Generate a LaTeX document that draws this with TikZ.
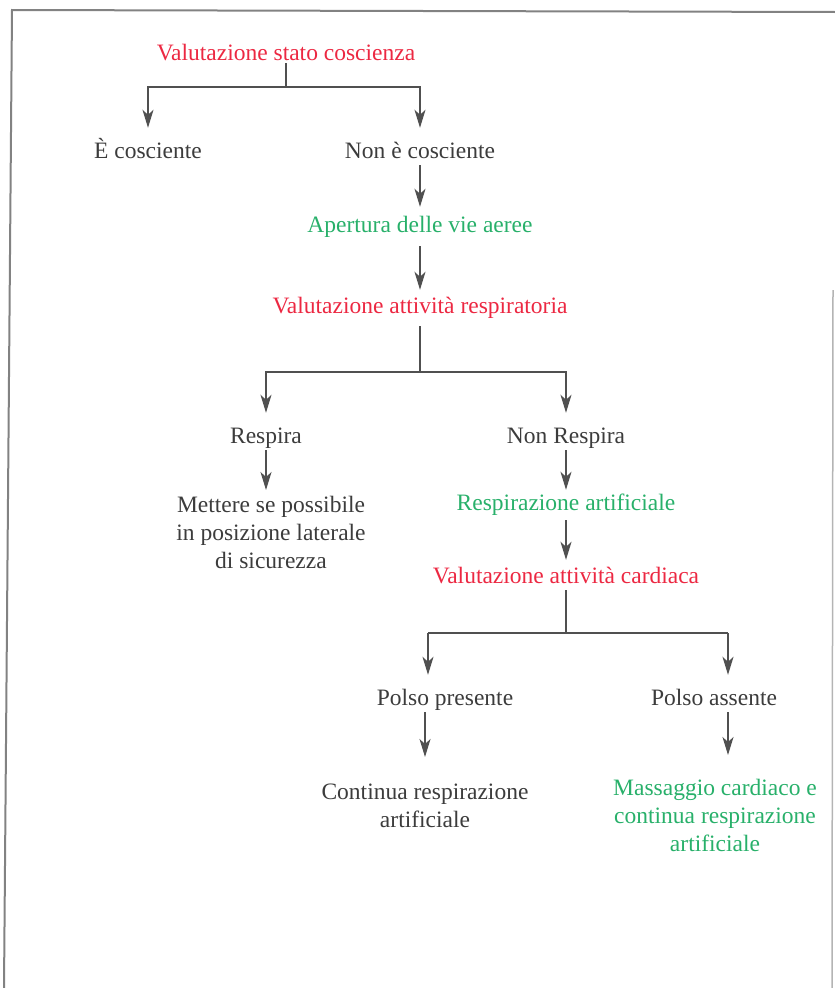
\documentclass[tikz,border=0pt]{standalone}
\usepackage{fontspec}
\setmainfont{Liberation Serif}
\usepackage{xcolor}
\usepackage{tikz}
\usetikzlibrary{arrows.meta, positioning}

\definecolor{testo}{RGB}{60,60,60}
\definecolor{rosso}{RGB}{236,40,66}
\definecolor{verde}{RGB}{40,176,106}
\definecolor{tratto}{RGB}{80,80,80}
\definecolor{cornice}{RGB}{130,130,130}

\begin{document}
\begin{tikzpicture}[x=1pt, y=-1pt,
    voce/.style={anchor=base, inner xsep=0pt, inner ysep=2pt, text height=16pt, text depth=5pt,
                 font=\fontsize{23.5}{28}\selectfont, text=testo},
    blocco/.style={anchor=north, inner xsep=0pt, inner ysep=2pt, align=center,
                   font=\fontsize{23.5}{28}\selectfont, text=testo},
    valuta/.style={text=rosso},
    azione/.style={text=verde},
    linea/.style={draw=tratto, line width=1.5pt},
    freccia/.style={linea, -{Stealth[length=18pt, width=11pt, inset=5pt]}}]

    \useasboundingbox (0,0) rectangle (835,988);

    % Cornice della pagina
    \draw[cornice, line width=2pt] (4,988) -- (12,10) -- (835,12);
    \draw[cornice!60, line width=1.5pt] (833,290) -- (832,988);

    % Stato di coscienza
    \node[voce, valuta] (vsc) at (286,60) {Valutazione stato coscienza};
    \node[voce] (ec) at (148,158) {È cosciente};
    \node[voce] (nec) at (420,158) {Non è cosciente};
    \node[voce, azione] (ava) at (420,232) {Apertura delle vie aeree};
    \node[voce, valuta] (var) at (420,313) {Valutazione attività respiratoria};

    % Respirazione
    \node[voce] (re) at (266,443) {Respira};
    \node[voce] (nre) at (566,443) {Non Respira};
    \node[blocco] (mps) at (271,494) {Mettere se possibile\\ in posizione laterale\\ di sicurezza};
    \node[voce, azione] (ra) at (566,510) {Respirazione artificiale};
    \node[voce, valuta] (vac) at (566,583) {Valutazione attività cardiaca};

    % Polso
    \node[voce] (pp) at (445,705) {Polso presente};
    \node[voce] (pa) at (714,705) {Polso assente};
    \node[blocco] (cra) at (425,782) {Continua respirazione\\ artificiale};
    \node[blocco, azione] (mca) at (715,777) {Massaggio cardiaco e\\ continua respirazione\\ artificiale};

    % Diramazioni
    \coordinate (j1) at (286,87);
    \coordinate (j2) at (420,372);
    \coordinate (j3) at (566,633);
    \coordinate (jl) at (428,633);
    \coordinate (jr) at (728,633);

    % Collegamenti
    \draw[linea, shorten <=-4pt] (vsc) -- (j1);
    \draw[freccia, shorten >=12pt] (j1) -| (ec);
    \draw[freccia, shorten >=12pt] (j1) -| (nec);
    \draw[freccia, shorten >=7pt] (nec) -- (ava);
    \draw[freccia, shorten <=7pt, shorten >=5pt] (ava) -- (var);

    \draw[linea, shorten <=6pt] (var) -- (j2);
    \draw[freccia, shorten >=12pt] (j2) -| (re);
    \draw[freccia, shorten >=12pt] (j2) -| (nre);
    \draw[freccia, shorten >=4pt] (re.south) -- (re.south |- mps.north);
    \draw[freccia, shorten >=2pt] (nre) -- (ra);
    \draw[freccia, shorten <=3pt, shorten >=5pt] (ra) -- (vac);

    \draw[linea] (vac) -- (j3);
    \draw[linea] (jl) -- (jr);
    \draw[freccia, shorten >=12pt] (jl) -- (jl |- pp.north);
    \draw[freccia, shorten >=12pt] (jr) -- (jr |- pa.north);
    \draw[freccia, shorten >=25pt] (cra.north |- pp.south) -- (cra.north);
    \draw[freccia, shorten >=22pt] (jr |- pa.south) -- (jr |- mca.north);

\end{tikzpicture}
\end{document}
